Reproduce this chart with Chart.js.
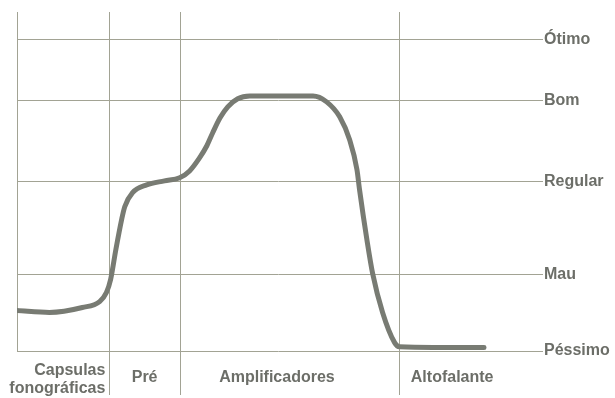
<!DOCTYPE html>
<html><head><meta charset="utf-8">
<script src="https://cdn.jsdelivr.net/npm/chart.js@4/dist/chart.umd.min.js"></script>
<style>html,body{margin:0;padding:0;background:#fff;}</style>
</head><body>
<canvas id="c" width="615" height="398"></canvas>
<script>
// ---- data ----
const stageLabels = [['Capsulas', 'fonográficas'], ['Pré'], ['Amplificadores'], ['Altofalante']];
const stageBounds = [17.6, 31.2, 73.1];
const levelLabels = ['Péssimo', 'Mau', 'Regular', 'Bom', 'Ótimo'];
const levelValues = [0, 24.6, 54.4, 80.4, 100];
const curveX = [0, 6.2, 12.5, 15.8, 17.1, 17.9, 18.9, 20.0, 20.6, 22.1, 24.8, 28.2, 31.1, 33.0, 34.9, 36.3, 37.4, 38.8, 40.3, 42.2, 44.5, 56.6, 59.2, 61.7, 63.6, 65.0, 65.5, 66.9, 68.0, 69.9, 72.2, 73.1, 89.3];
const curveY = [13.0, 12.4, 14.0, 15.9, 18.8, 23.0, 32.6, 42.2, 46.4, 50.9, 53.4, 54.7, 55.7, 57.9, 62.1, 66.0, 70.1, 74.9, 78.5, 81.1, 82.0, 82.0, 80.1, 75.3, 67.9, 58.3, 51.8, 35.8, 24.9, 12.4, 2.7, 1.4, 1.1];

const GRID = '#a2a394';
const INK = '#6c6e68';
const CURVE = '#787b73';
const FONT = '"Liberation Sans", Arial, sans-serif';
const FSIZE = 16;

const stageLabelPlugin = {
  id: 'stageLabels',
  afterDraw(chart, args, opts) {
    const xs = chart.scales.x;
    const ctx = chart.ctx;
    const base = chart.chartArea.bottom;
    ctx.save();
    ctx.font = 'bold ' + FSIZE + 'px ' + FONT;
    ctx.fillStyle = INK;
    ctx.textBaseline = 'alphabetic';
    stageLabels.forEach((lines, i) => {
      const a = opts.anchors[i];
      ctx.textAlign = a.align;
      const x = xs.getPixelForValue(a.at);
      if (lines.length === 1) {
        ctx.fillText(lines[0], x, base + 31);
      } else {
        lines.forEach((t, j) => ctx.fillText(t, x, base + 24 + j * 18));
      }
    });
    ctx.restore();
  }
};

new Chart(document.getElementById('c'), {
  type: 'line',
  data: {
    datasets: [{
      data: curveX.map((x, i) => ({ x: x, y: curveY[i] })),
      borderColor: CURVE,
      borderWidth: 5,
      pointRadius: 0,
      fill: false,
      cubicInterpolationMode: 'monotone',
      borderCapStyle: 'round',
      borderJoinStyle: 'round'
    }]
  },
  options: {
    responsive: false,
    animation: false,
    devicePixelRatio: 1,
    layout: { padding: { left: 17, top: 12, right: 0, bottom: 0 } },
    plugins: {
      legend: { display: false },
      tooltip: { enabled: false },
      stageLabels: {
        anchors: [
          { at: 16.9, align: 'right' },
          { at: 24.4, align: 'center' },
          { at: 49.7, align: 'center' },
          { at: 83.2, align: 'center' }
        ]
      }
    },
    scales: {
      x: {
        type: 'linear',
        position: 'bottom',
        min: 0,
        max: 100,
        afterBuildTicks: s => { s.ticks = stageBounds.map(v => ({ value: v })); },
        afterFit: s => { s.height = 47; },
        ticks: { display: false },
        grid: { color: GRID, lineWidth: 1, drawTicks: true, tickLength: 44, tickColor: GRID },
        border: { display: false }
      },
      yl: {
        type: 'linear',
        position: 'left',
        min: 0,
        max: 109,
        afterFit: s => { s.width = 0; },
        ticks: { display: false },
        grid: { display: false, drawTicks: false },
        border: { display: true, color: GRID, width: 1 }
      },
      y: {
        type: 'linear',
        position: 'right',
        min: 0,
        max: 109,
        afterBuildTicks: s => { s.ticks = levelValues.map(v => ({ value: v })); },
        afterFit: s => { s.width = 75; },
        ticks: {
          autoSkip: false,
          padding: 1,
          color: INK,
          font: { family: FONT, size: FSIZE, weight: 'bold' },
          callback: (v, i) => levelLabels[i]
        },
        grid: { color: GRID, lineWidth: 1, drawTicks: true, tickLength: 3, tickColor: GRID },
        border: { display: false }
      }
    }
  },
  plugins: [stageLabelPlugin]
});
</script>
</body></html>
